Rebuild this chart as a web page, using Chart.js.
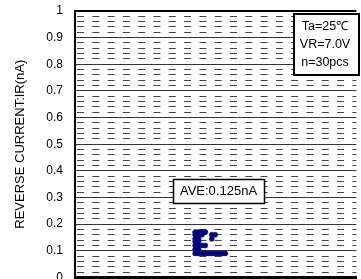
<!DOCTYPE html>
<html><head><meta charset="utf-8">
<script src="https://cdn.jsdelivr.net/npm/chart.js@4"></script>
<style>html,body{margin:0;padding:0;background:#fff;overflow:hidden;height:279px}#wrap{width:361px;height:282px;position:relative}</style>
</head><body><div id="wrap"><canvas id="c"></canvas></div>
<script>
const yTickLabels = ['0','0.1','0.2','0.3','0.4','0.5','0.6','0.7','0.8','0.9','1'];
const yTitle = 'REVERSE CURRENT:IR(nA)';
const conditions = ['Ta=25\u2103','VR=7.0V','n=30pcs'];
const averageLabel = 'AVE:0.125nA';
// 30 samples (dot-plot: x is stacking position, y is IR in nA)
const sampleX = [42.7,42.7,42.7,42.7,42.7,42.7,42.7,
                 43.9,43.9,43.9,43.9,43.9,43.9,43.9,
                 45.1,45.1,45.1, 46.3,46.3, 48.6,48.6, 49.8,
                 45.1,46.3,47.5,48.6,49.8,51.0,52.2,53.4];
const sampleY = [0.17,0.16,0.145,0.135,0.12,0.105,0.09,
                 0.17,0.16,0.145,0.135,0.12,0.105,0.09,
                 0.17,0.16,0.12, 0.17,0.12, 0.16,0.145, 0.16,
                 0.09,0.09,0.09,0.09,0.09,0.09,0.09,0.09];

const FAM = 'Arial, "Liberation Sans", sans-serif';

const boxes = {
  id: 'boxes',
  afterDraw(chart) {
    const ctx = chart.ctx;
    ctx.save();
    // conditions box
    ctx.fillStyle = '#fff';
    ctx.fillRect(294, 14, 65, 61);
    ctx.strokeStyle = '#000';
    ctx.lineWidth = 2;
    ctx.strokeRect(294, 14, 65, 61);
    ctx.fillStyle = '#000';
    ctx.font = '12.5px ' + FAM;
    ctx.textAlign = 'center';
    ctx.textBaseline = 'middle';
    conditions.forEach((t, i) => ctx.fillText(t, 325, 27 + i * 18));
    // average box
    ctx.fillStyle = '#fff';
    ctx.fillRect(173.5, 179.5, 91, 24);
    ctx.lineWidth = 1.5;
    ctx.strokeRect(173.5, 179.5, 91, 24);
    ctx.fillStyle = '#000';
    ctx.font = '13px ' + FAM;
    ctx.fillText(averageLabel, 218.5, 191.5);
    ctx.restore();
  }
};

new Chart(document.getElementById('c'), {
  type: 'scatter',
  data: {
    datasets: [{
      data: sampleX.map((x, i) => ({x: x, y: sampleY[i]})),
      pointRadius: 2.5,
      pointBackgroundColor: '#000080',
      pointBorderColor: '#000080',
      pointBorderWidth: 0.6,
      showLine: false
    }]
  },
  options: {
    responsive: true,
    maintainAspectRatio: false,
    animation: false,
    devicePixelRatio: 1,
    layout: {padding: {top: 11, bottom: 0, left: 0, right: 0}},
    plugins: {legend: {display: false}, tooltip: {enabled: false}},
    scales: {
      x: {
        type: 'linear', min: 0, max: 100,
        grid: {display: false, drawTicks: false},
        ticks: {display: false},
        border: {display: true, color: '#000', width: 3},
        afterFit(s) { s.height = 0; s.paddingLeft = 0; s.paddingRight = 0; }
      },
      y: {
        type: 'linear', position: 'left', min: 0, max: 1,
        ticks: {stepSize: 0.1, padding: 12, color: '#000', font: {size: 12, family: FAM},
                callback: (v, i) => yTickLabels[i]},
        grid: {drawTicks: false, color: ctx => (ctx.tick && ctx.tick.value === 1) ? '#000' : '#333',
               lineWidth: ctx => (ctx.tick && ctx.tick.value === 1) ? 2 : 1},
        border: {display: true, color: '#000', width: 2},
        title: {display: true, text: yTitle, color: '#000', font: {size: 13, family: FAM},
                padding: {top: 13, bottom: 0}},
        afterFit(s) { s.width = 75; s.paddingTop = 0; s.paddingBottom = 0; }
      },
      y2: {
        type: 'linear', position: 'left', min: 0, max: 1,
        ticks: {display: false, stepSize: 0.02},
        grid: {drawTicks: false, color: ctx => (ctx.index % 5 === 0) ? 'rgba(0,0,0,0)' : '#444', lineWidth: 1},
        border: {display: false, dash: [7, 8.3], dashOffset: -2},
        afterFit(s) { s.width = 0; s.paddingTop = 0; s.paddingBottom = 0; }
      }
    }
  },
  plugins: [boxes]
});
</script>
</body></html>
